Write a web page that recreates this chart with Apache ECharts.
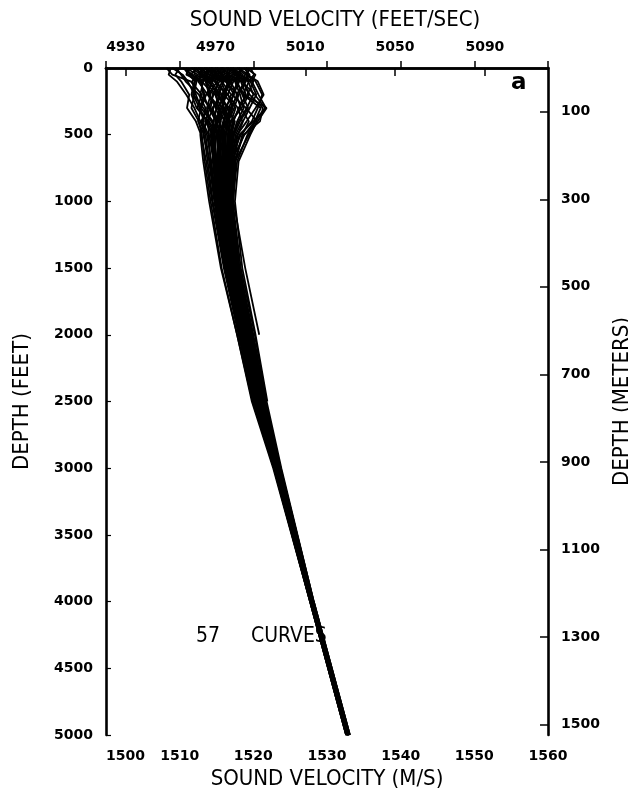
<!DOCTYPE html>
<html>
<head>
<meta charset="utf-8">
<script src="https://cdn.jsdelivr.net/npm/echarts@6/dist/echarts.min.js"></script>
<style>
  html, body { margin: 0; padding: 0; background: #fff; }
  #chart { width: 628px; height: 799px; }
</style>
</head>
<body>
<div id="chart"></div>
<script>
// depths (feet) at which each profile is read
var DEPTH_FT = [0, 50, 100, 200, 300, 400, 500, 700, 1000, 1500, 2000, 2500, 3000, 4000, 5000];

// 57 sound velocity profiles (m/s), one row per curve; null = curve ends
var CURVES = [
  [1508.2, 1509.0, 1511.5, 1513.0, 1512.4, 1513.8, 1514.0, 1514.6, 1515.2, 1516.6, 1518.6, 1520.5, 1523.1, 1527.9, 1532.8],
  [1509.5, 1510.2, 1510.8, 1512.6, 1513.5, 1513.1, 1513.9, 1514.2, 1514.9, 1516.3, 1518.3, 1520.3, 1523.0, 1527.8, 1532.7],
  [1510.4, 1511.8, 1512.3, 1511.9, 1513.2, 1514.5, 1514.3, 1514.9, 1515.5, 1516.9, 1518.9, 1520.7, 1523.2, 1527.9, 1532.8],
  [1511.0, 1511.4, 1513.6, 1514.2, 1513.7, 1514.0, 1515.1, 1515.3, 1515.8, 1517.1, 1519.0, 1520.9, 1523.3, 1528.0, 1532.9],
  [1511.6, 1512.9, 1512.5, 1513.8, 1515.0, 1514.6, 1514.8, 1515.0, 1515.4, 1516.8, 1518.7, 1520.6, 1523.1, 1527.9, 1532.8],
  [1512.1, 1512.0, 1514.3, 1515.5, 1514.9, 1515.6, 1515.2, 1515.7, 1516.1, 1517.3, 1519.2, 1521.0, 1523.4, 1528.0, 1532.9],
  [1512.5, 1513.7, 1513.2, 1512.8, 1514.1, 1513.5, 1514.4, 1514.7, 1515.1, 1516.5, 1518.5, 1520.4, 1523.0, 1527.8, 1532.7],
  [1512.9, 1513.1, 1515.0, 1516.2, 1515.8, 1516.4, 1516.0, 1516.1, 1516.4, 1517.6, 1519.4, 1521.2, 1523.5, 1528.1, 1533.0],
  [1513.3, 1514.6, 1514.0, 1515.2, 1516.5, 1515.9, 1515.5, 1515.6, 1515.9, 1517.2, 1519.1, 1520.9, 1523.3, null, null],
  [1513.7, 1513.9, 1515.8, 1514.9, 1515.3, 1516.8, 1516.6, 1516.5, 1516.7, 1517.8, 1519.6, 1521.4, 1523.6, 1528.1, 1533.0],
  [1514.0, 1515.3, 1514.7, 1516.6, 1517.2, 1516.3, 1515.7, 1515.2, 1515.6, 1517.0, 1518.9, 1520.8, 1523.2, 1527.9, 1532.8],
  [1514.4, 1514.2, 1516.3, 1517.4, 1516.1, 1514.9, 1515.0, 1515.4, 1515.7, 1517.0, 1518.8, 1520.7, 1523.2, 1527.9, 1532.8],
  [1514.8, 1516.0, 1515.4, 1514.5, 1514.2, 1515.1, 1514.6, 1514.8, 1515.3, 1516.7, 1518.6, 1520.5, 1523.1, 1527.9, 1532.8],
  [1515.1, 1515.5, 1517.1, 1516.0, 1517.6, 1517.0, 1516.5, 1516.3, 1516.5, 1517.7, 1519.5, 1521.3, 1523.5, 1528.1, 1533.0],
  [1515.5, 1516.8, 1516.2, 1517.9, 1516.9, 1516.0, 1515.9, 1515.8, 1516.0, 1517.3, 1519.2, 1521.0, 1523.4, 1528.0, 1532.9],
  [1515.9, 1516.1, 1517.8, 1518.5, 1519.3, 1518.2, 1517.4, 1516.9, 1516.8, 1517.9, 1519.8, 1521.5, 1523.6, null, null],
  [1516.3, 1517.5, 1516.9, 1515.7, 1516.4, 1517.5, 1517.0, 1516.6, 1516.6, 1517.8, 1519.6, 1521.3, 1523.5, 1528.1, 1533.0],
  [1516.6, 1516.4, 1518.3, 1519.0, 1518.1, 1517.2, 1516.8, 1516.4, 1516.5, 1517.7, 1519.5, 1521.2, 1523.5, 1528.1, 1533.0],
  [1517.0, 1518.2, 1517.6, 1518.8, 1521.8, 1520.6, 1519.4, 1517.5, 1517.1, 1518.1, 1520.0, 1521.7, null, null, null],
  [1517.4, 1517.3, 1519.0, 1518.0, 1517.4, 1516.6, 1516.2, 1516.0, 1516.2, 1517.5, 1519.3, 1521.1, 1523.4, 1528.0, 1532.9],
  [1517.8, 1518.9, 1518.4, 1520.2, 1521.6, 1520.3, 1519.2, 1517.8, 1517.2, 1518.3, 1520.2, 1521.8, 1523.8, 1528.2, 1533.1],
  [1518.2, 1518.0, 1519.6, 1520.4, 1519.5, 1518.6, 1517.9, 1517.2, 1516.9, 1518.0, 1519.9, 1521.6, 1523.7, 1528.2, 1533.1],
  [1518.7, 1519.5, 1518.9, 1517.7, 1518.3, 1519.4, 1518.5, 1517.6, 1517.3, 1518.9, 1520.8, null, null, null, null],
  [1519.2, 1519.0, 1520.3, 1521.2, 1520.6, 1519.8, 1518.3, 1516.8, 1516.4, 1517.6, 1519.4, 1521.2, 1523.5, 1528.1, 1533.0],
  [1519.6, 1520.1, 1519.4, 1518.6, 1521.0, 1520.2, 1518.8, 1517.0, 1516.3, 1517.4, 1519.3, 1521.1, 1523.4, 1528.0, 1532.9],
  [1508.8, 1508.5, 1509.6, 1510.9, 1512.0, 1512.8, 1513.5, 1514.0, 1514.7, 1516.1, 1518.1, 1520.1, 1522.9, 1527.7, 1532.6],
  [1510.0, 1509.4, 1510.2, 1511.3, 1511.0, 1512.2, 1512.9, 1513.6, 1514.4, 1516.0, 1518.0, 1520.0, 1522.8, 1527.7, 1532.6],
  [1510.8, 1512.5, 1511.7, 1512.2, 1512.9, 1512.5, 1513.3, 1513.8, 1514.5, 1516.1, 1518.2, 1520.2, 1522.9, 1527.8, 1532.7],
  [1511.3, 1510.9, 1512.8, 1513.4, 1512.7, 1513.6, 1513.2, 1514.1, 1514.8, 1516.3, 1518.3, 1520.3, 1523.0, 1527.8, 1532.7],
  [1511.9, 1513.4, 1512.0, 1511.6, 1512.3, 1513.9, 1514.7, 1514.5, 1515.0, 1516.4, 1518.4, 1520.4, 1523.0, 1527.8, 1532.7],
  [1512.3, 1511.5, 1513.0, 1514.6, 1513.9, 1512.9, 1513.7, 1514.3, 1514.9, 1516.3, 1518.3, 1520.3, 1523.0, null, null],
  [1512.7, 1514.2, 1513.5, 1514.0, 1515.4, 1515.2, 1514.4, 1514.8, 1515.2, 1516.6, 1518.6, 1520.5, 1523.1, 1527.9, 1532.8],
  [1513.1, 1512.6, 1514.5, 1513.6, 1512.9, 1514.3, 1515.3, 1515.1, 1515.4, 1516.8, 1518.7, 1520.6, 1523.1, 1527.9, 1532.8],
  [1513.5, 1515.0, 1513.8, 1515.4, 1514.6, 1513.7, 1514.5, 1515.0, 1515.5, 1516.9, 1518.8, 1520.7, 1523.2, 1527.9, 1532.8],
  [1513.9, 1513.3, 1515.6, 1516.4, 1515.6, 1514.8, 1515.6, 1515.5, 1515.8, 1517.1, 1519.0, 1520.9, 1523.3, 1528.0, 1532.9],
  [1514.2, 1515.8, 1515.1, 1513.9, 1515.1, 1516.2, 1515.4, 1515.3, 1515.6, 1516.9, 1518.8, 1520.7, 1523.2, 1527.9, 1532.8],
  [1514.6, 1514.4, 1516.6, 1515.9, 1514.4, 1515.3, 1516.2, 1515.9, 1516.0, 1517.2, 1519.1, 1521.0, 1523.3, 1528.0, 1532.9],
  [1515.0, 1516.5, 1515.7, 1517.0, 1516.3, 1515.5, 1515.0, 1515.6, 1515.9, 1517.1, 1519.0, 1520.9, 1523.3, 1528.0, 1532.9],
  [1515.3, 1514.9, 1516.9, 1517.8, 1517.0, 1516.6, 1516.3, 1516.2, 1516.3, 1517.5, 1519.3, 1521.1, 1523.4, 1528.0, 1532.9],
  [1515.7, 1517.2, 1516.0, 1515.3, 1516.0, 1516.9, 1516.7, 1516.4, 1516.4, 1517.6, 1519.4, 1521.2, 1523.4, 1528.0, 1532.9],
  [1516.1, 1515.6, 1517.5, 1518.2, 1518.7, 1517.8, 1517.2, 1516.7, 1516.7, 1517.8, 1519.6, 1521.3, 1523.5, 1528.1, 1533.0],
  [1516.5, 1518.0, 1517.3, 1516.5, 1517.9, 1518.5, 1517.6, 1517.0, 1516.9, 1518.0, 1519.8, 1521.5, 1523.6, 1528.1, 1533.0],
  [1516.9, 1516.7, 1518.6, 1519.4, 1518.4, 1517.0, 1516.1, 1515.9, 1516.1, 1517.4, 1519.3, 1521.1, 1523.4, 1528.0, 1532.9],
  [1517.2, 1518.6, 1517.9, 1517.1, 1519.0, 1520.5, 1519.6, 1518.0, 1517.5, 1518.5, 1520.3, 1521.9, null, null, null],
  [1517.6, 1517.5, 1519.3, 1520.0, 1519.1, 1518.0, 1517.3, 1516.9, 1516.8, 1517.9, 1519.7, 1521.4, 1523.6, 1528.1, 1533.0],
  [1518.0, 1519.3, 1518.6, 1519.5, 1521.3, 1520.9, 1518.7, 1517.4, 1517.0, 1518.1, 1519.9, 1521.6, 1523.7, 1528.2, 1533.1],
  [1518.4, 1518.2, 1520.0, 1519.2, 1518.0, 1517.3, 1516.9, 1516.6, 1516.6, 1517.8, 1519.6, 1521.3, 1523.5, 1528.1, 1533.0],
  [1519.0, 1520.3, 1519.8, 1520.7, 1521.7, 1520.0, 1518.1, 1517.3, 1517.0, 1518.1, 1519.9, 1521.5, 1523.6, 1528.1, 1533.0],
  [1519.4, 1519.2, 1520.6, 1521.4, 1520.3, 1519.1, 1517.8, 1516.9, 1516.7, 1517.9, 1519.7, 1521.4, 1523.6, 1528.1, 1533.0],
  [1513.0, 1513.8, 1512.9, 1513.2, 1514.0, 1514.9, 1515.8, 1515.8, 1516.0, 1517.3, 1519.2, 1521.0, 1523.4, 1528.0, 1532.9],
  [1514.9, 1514.7, 1513.6, 1514.8, 1515.7, 1515.0, 1514.2, 1514.6, 1515.1, 1516.5, 1518.5, 1520.4, 1523.0, 1527.9, 1532.8],
  [1515.8, 1515.2, 1516.7, 1516.1, 1515.2, 1516.1, 1516.9, 1516.8, 1516.9, 1517.9, 1519.7, 1521.4, 1523.6, 1528.1, 1533.0],
  [1512.2, 1513.0, 1514.8, 1515.7, 1516.0, 1515.3, 1515.9, 1515.4, 1515.7, 1517.0, 1518.9, 1520.8, 1523.2, 1527.9, 1532.8],
  [1516.8, 1517.8, 1518.1, 1517.3, 1516.7, 1516.5, 1516.6, 1516.2, 1516.3, 1517.5, 1519.4, 1521.2, 1523.4, 1528.0, 1532.9],
  [1509.0, 1510.4, 1511.1, 1512.0, 1511.6, 1512.6, 1513.0, 1513.4, 1514.2, 1515.7, 1517.8, 1519.8, 1522.7, 1527.7, 1532.6],
  [1514.5, 1513.6, 1514.1, 1515.0, 1516.8, 1517.3, 1517.1, 1516.6, 1516.5, 1517.6, 1519.5, 1521.2, 1523.4, 1528.0, 1532.9],
  [1510.6, 1511.2, 1512.1, 1511.8, 1512.7, 1513.3, 1512.8, 1513.2, 1514.0, 1515.6, 1517.8, 1519.9, 1522.8, 1527.7, 1532.6]
];

// axis ticks
var VEL_MS_TICKS = [1500, 1510, 1520, 1530, 1540, 1550, 1560];
var VEL_FTS_TICKS = [4930, 4970, 5010, 5050, 5090];
var DEPTH_FT_TICKS = [0, 500, 1000, 1500, 2000, 2500, 3000, 3500, 4000, 4500, 5000];
var DEPTH_M_TICKS = [100, 300, 500, 700, 900, 1100, 1300, 1500];

var FT_PER_M = 3.28084;
var FONT = '"DejaVu Sans", sans-serif';
var TITLE_FONT = '"DejaVu Sans Condensed", "DejaVu Sans", sans-serif';

var myChart = echarts.init(document.getElementById('chart'), null, { renderer: 'canvas' });

function plain(v) { return String(Math.round(v)); }

var axisLineStyle = { show: true, lineStyle: { color: '#000', width: 2.6 } };
var labelStyle = { color: '#000', fontFamily: FONT, fontWeight: 'bold', fontSize: 14, formatter: plain };
var nameStyle = { color: '#000', fontFamily: TITLE_FONT, fontSize: 22 };

var series = CURVES.map(function (row, i) {
  var pts = [];
  row.forEach(function (v, j) {
    if (v != null) pts.push([v, DEPTH_FT[j]]);
  });
  return {
    name: 'curve' + (i + 1),
    type: 'line',
    xAxisIndex: 0,
    yAxisIndex: 0,
    data: pts,
    symbol: 'none',
    silent: true,
    lineStyle: { color: '#000', width: 1.8 },
    z: 3
  };
});

var option = {
  backgroundColor: '#fff',
  animation: false,
  grid: { left: 106, right: 80, top: 68, bottom: 64, containLabel: false, outerBoundsMode: 'none' },
  xAxis: [
    {
      type: 'value',
      position: 'bottom',
      min: VEL_MS_TICKS[0],
      max: VEL_MS_TICKS[VEL_MS_TICKS.length - 1],
      interval: 10,
      name: 'SOUND VELOCITY (M/S)',
      nameLocation: 'middle',
      nameGap: 29,
      nameTextStyle: nameStyle,
      axisLine: axisLineStyle,
      axisTick: { show: true, inside: true, length: 7, lineStyle: { color: '#000', width: 1.5 } },
      axisLabel: Object.assign({ margin: 14, alignMinLabel: 'left' }, labelStyle),
      splitLine: { show: false }
    },
    {
      type: 'value',
      position: 'top',
      min: VEL_MS_TICKS[0] * FT_PER_M,
      max: VEL_MS_TICKS[VEL_MS_TICKS.length - 1] * FT_PER_M,
      name: 'SOUND VELOCITY (FEET/SEC)',
      nameLocation: 'middle',
      nameGap: 37,
      nameTextStyle: Object.assign({ padding: [0, 0, 0, 16] }, nameStyle),
      axisLine: axisLineStyle,
      axisTick: { show: true, inside: true, length: 8, customValues: VEL_FTS_TICKS, lineStyle: { color: '#000', width: 1.5 } },
      axisLabel: Object.assign({ margin: 14, customValues: VEL_FTS_TICKS }, labelStyle),
      splitLine: { show: false }
    }
  ],
  yAxis: [
    {
      type: 'value',
      position: 'left',
      inverse: true,
      min: DEPTH_FT_TICKS[0],
      max: DEPTH_FT_TICKS[DEPTH_FT_TICKS.length - 1],
      interval: 500,
      name: 'DEPTH (FEET)',
      nameLocation: 'middle',
      nameRotate: 90,
      nameGap: 73,
      nameTextStyle: nameStyle,
      axisLine: axisLineStyle,
      axisTick: { show: true, inside: true, length: 5, lineStyle: { color: '#000', width: 1.2 } },
      axisLabel: Object.assign({ margin: 13 }, labelStyle),
      splitLine: { show: false }
    },
    {
      type: 'value',
      position: 'right',
      inverse: true,
      min: 0,
      max: DEPTH_FT_TICKS[DEPTH_FT_TICKS.length - 1] / FT_PER_M,
      name: 'DEPTH (METERS)',
      nameLocation: 'middle',
      nameRotate: 90,
      nameGap: 53,
      nameTextStyle: nameStyle,
      axisLine: axisLineStyle,
      axisTick: { show: true, inside: true, length: 8, customValues: DEPTH_M_TICKS, lineStyle: { color: '#000', width: 1.5 } },
      axisLabel: Object.assign({ margin: 13, customValues: DEPTH_M_TICKS }, labelStyle),
      splitLine: { show: false }
    }
  ],
  graphic: [
    { type: 'text', left: 511, top: 72, style: { text: 'a', fill: '#000', font: 'bold 23px ' + FONT } },
    { type: 'text', left: 196, top: 626, style: { text: '57', fill: '#000', font: '21px ' + TITLE_FONT } },
    { type: 'text', left: 251, top: 626, style: { text: 'CURVES', fill: '#000', font: '21px ' + TITLE_FONT } }
  ],
  series: series
};

myChart.setOption(option);
window.onresize = myChart.resize;
</script>
</body>
</html>
